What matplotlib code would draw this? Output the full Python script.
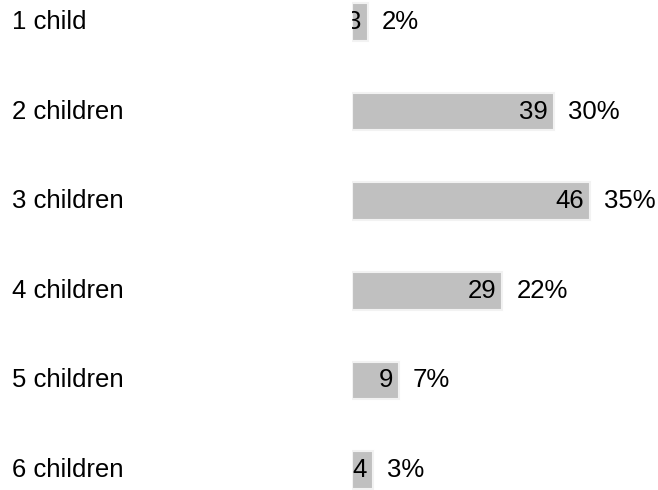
import matplotlib

matplotlib.use("Agg")
import matplotlib.pyplot as plt
from matplotlib.transforms import blended_transform_factory, offset_copy

categories = ["1 child", "2 children", "3 children", "4 children", "5 children", "6 children"]
counts = [3, 39, 46, 29, 9, 4]
percents = ["2%", "30%", "35%", "22%", "7%", "3%"]

plt.rcParams["font.family"] = ["Liberation Sans", "DejaVu Sans"]

fig = plt.figure(figsize=(6.58, 4.90), dpi=100)
ax = fig.add_axes([352 / 658, 0, 311 / 658, 1])
ax.set_xlim(0, 60)
ax.set_ylim(5 + 20 / 89.6, -22 / 89.6)
ax.axis("off")

y = range(len(categories))
ax.barh(y, counts, height=0.42, color="#c0c0c0", edgecolor="#f2f2f2", linewidth=1.5)

label_tr = blended_transform_factory(fig.transFigure, ax.transData)
inner_tr = offset_copy(ax.transData, fig=fig, x=-6, y=0, units="dots")
outer_tr = offset_copy(ax.transData, fig=fig, x=14, y=0, units="dots")

fs = 18.5
for i, (cat, n, pct) in enumerate(zip(categories, counts, percents)):
    ax.text(12 / 658, i, cat, transform=label_tr, ha="left", va="center",
            fontsize=fs, color="black", clip_on=False)
    ax.text(n, i, str(n), transform=inner_tr, ha="right", va="center",
            fontsize=fs, color="black", clip_on=True)
    ax.text(n, i, pct, transform=outer_tr, ha="left", va="center",
            fontsize=fs, color="black", clip_on=False)

fig.savefig("out.png", dpi=100)
